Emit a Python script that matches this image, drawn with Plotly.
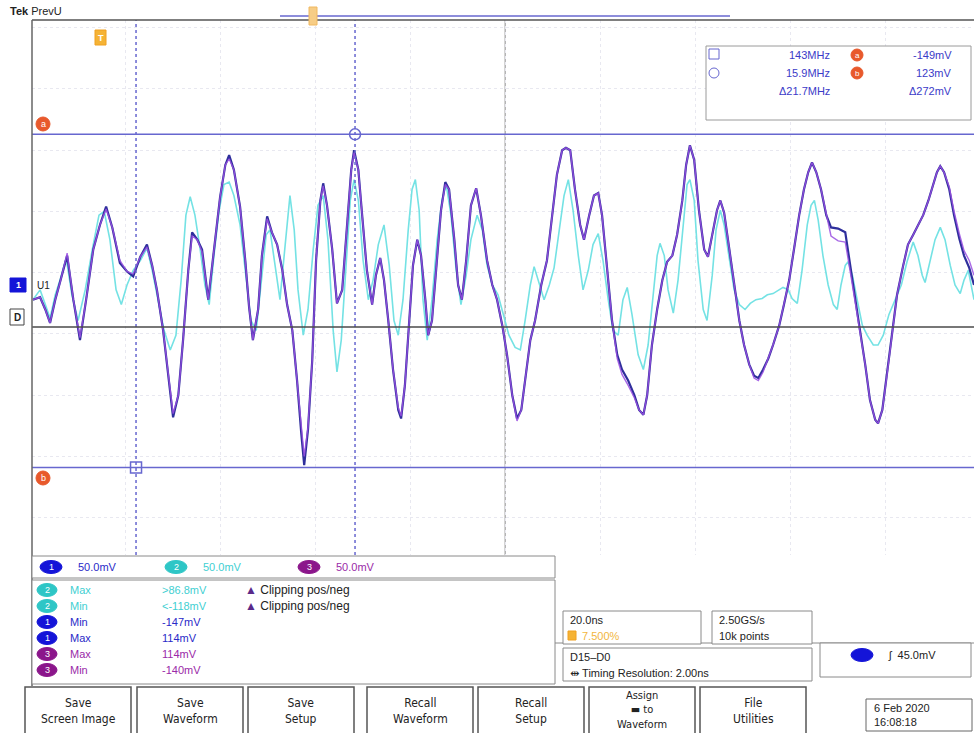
import plotly.graph_objects as go

# ---------------- data (time in ns, amplitude in mV) ----------------
ch1_t = [-99.4, -97.9, -96.8, -95.8, -94.7, -93.7, -92.2, -90.9, -89.5, -88.2,
         -86.7, -85.3, -84.0, -82.7, -81.1, -79.6, -78.3, -76.8, -75.4, -74.3,
         -73.3, -72.0, -70.9, -69.9, -68.8, -67.8, -66.7, -65.9, -64.8, -63.8,
         -62.5, -61.3, -60.0, -58.9, -58.1, -57.1, -55.8, -54.7, -53.9, -53.1,
         -52.0, -51.2, -50.1, -49.1, -48.0, -46.9, -45.9, -44.8, -43.8, -42.9,
         -42.3, -41.5, -40.6, -39.8, -38.9, -38.3, -37.5, -36.4, -35.4, -34.3,
         -33.3, -32.4, -31.8, -30.9, -30.1, -29.1, -28.0, -27.2, -26.3, -25.5,
         -24.6, -23.6, -22.5, -21.9, -21.1, -20.2, -19.4, -18.5, -17.7, -16.8,
         -16.2, -15.4, -14.3, -13.5, -12.6, -11.8, -10.7, -9.9, -9.1, -8.2,
         -7.2, -6.1, -5.1, -3.8, -2.7, -1.7, -0.6, 0.4, 1.5, 2.5,
         3.4, 4.2, 5.3, 6.3, 7.6, 8.8, 9.9, 10.9, 12.0, 12.8,
         13.7, 14.7, 15.8, 16.6, 17.7, 18.7, 19.6, 20.4, 21.5, 22.5,
         23.6, 24.6, 25.9, 27.2, 28.2, 29.1, 29.9, 30.9, 32.0, 33.1,
         34.1, 35.2, 36.2, 37.3, 38.1, 38.9, 39.8, 40.8, 41.9, 42.7,
         43.8, 44.6, 45.3, 46.1, 47.2, 48.2, 49.3, 50.3, 51.4, 52.4,
         53.3, 54.3, 55.4, 56.4, 57.7, 58.7, 59.8, 60.8, 61.9, 62.9,
         63.8, 64.6, 65.5, 66.5, 67.6, 68.6, 70.1, 71.6, 72.6, 73.7,
         74.7, 75.8, 76.8, 77.9, 78.5, 79.4, 80.4, 81.5, 82.5, 83.8,
         84.8, 85.9, 86.9, 88.0, 89.1, 90.1, 90.9, 91.6, 92.4, 93.5,
         94.5, 95.6, 96.6, 97.7, 98.7]

ch1_mv = [-12, -10, -20, -31, -12, 2, 24, -12, -45, -12,
          29, 49, 64, 47, 18, 11, 7, 23, 33, 16,
          -4, -37, -73, -108, -90, -45, 12, 43, 37, 29,
          -12, 29, 72, 98, 106, 94, 64, 20, -18, -45,
          -20, 24, 56, 43, 33, 12, -16, -37, -78, -122,
          -147, -118, -61, 20, 69, 83, 65, 29, -15, -4,
          45, 94, 110, 94, 57, 12, -16, 8, 22, 4,
          -29, -69, -102, -109, -82, -29, 16, 37, 24, -12,
          -41, -29, 20, 61, 84, 78, 37, 0, -12, 20,
          65, 79, 57, 20, 0, -12, -33, -57, -90, -109,
          -102, -78, -45, -29, 0, 20, 57, 90, 110, 112,
          110, 78, 49, 37, 57, 73, 75, 57, 12, -29,
          -57, -69, -78, -90, -102, -106, -90, -49, -20, 4,
          19, 24, 41, 69, 98, 114, 102, 61, 29, 23,
          45, 61, 69, 59, 29, 0, -29, -49, -65, -74,
          -76, -69, -60, -49, -33, -16, 4, 29, 57, 78,
          92, 100, 92, 78, 57, 47, 46, 43, 16, -12,
          -37, -65, -94, -110, -113, -102, -73, -41, -8, 16,
          33, 41, 49, 57, 69, 82, 92, 97, 92, 78,
          57, 38, 24, 14, 0]

# math / reference waveform (same time base as ch1)
math_mv = [-12, -10, -20, -31, -12, 2, 26, -12, -43, -12,
           29, 49, 62, 47, 20, 11, 9, 23, 31, 16,
           -4, -37, -73, -105, -90, -45, 12, 40, 37, 27,
           -12, 29, 72, 98, 103, 94, 64, 20, -18, -45,
           -20, 24, 54, 43, 33, 12, -16, -37, -78, -118,
           -140, -116, -61, 20, 69, 81, 65, 29, -15, -4,
           45, 94, 108, 94, 57, 12, -16, 8, 22, 4,
           -29, -69, -100, -107, -82, -29, 16, 37, 24, -12,
           -41, -29, 20, 61, 82, 78, 37, 0, -12, 20,
           65, 79, 57, 20, 0, -12, -33, -57, -90, -111,
           -102, -78, -45, -29, 0, 20, 57, 90, 110, 112,
           110, 78, 49, 37, 57, 73, 75, 57, 12, -29,
           -60, -73, -82, -92, -102, -106, -90, -49, -20, 4,
           19, 24, 41, 69, 98, 114, 102, 61, 29, 23,
           45, 61, 69, 59, 29, 0, -29, -49, -65, -76,
           -78, -71, -60, -49, -33, -16, 4, 29, 57, 78,
           92, 100, 92, 78, 57, 40, 36, 35, 12, -14,
           -37, -65, -94, -110, -113, -102, -73, -41, -8, 16,
           33, 41, 49, 57, 69, 82, 92, 97, 92, 80,
           60, 42, 28, 20, 8]

ch2_t = [-99.4, -97.9, -96.8, -95.8, -94.7, -93.7, -92.4, -91.2, -89.9, -88.4,
         -86.9, -85.5, -84.4, -83.2, -81.9, -80.8, -79.6, -78.3, -76.8, -75.4,
         -74.3, -73.1, -71.8, -70.5, -69.3, -68.2, -67.2, -66.3, -65.3, -64.2,
         -63.2, -62.3, -61.3, -60.2, -59.2, -58.1, -57.1, -55.8, -54.5, -53.5,
         -52.4, -51.4, -50.3, -49.5, -48.4, -47.4, -46.3, -45.3, -44.4, -43.6,
         -42.5, -41.5, -40.4, -39.4, -38.3, -37.3, -36.2, -35.4, -34.5, -33.5,
         -32.6, -31.8, -30.9, -29.9, -28.8, -27.8, -26.7, -25.5, -24.4, -23.4,
         -22.5, -21.5, -20.4, -19.6, -18.9, -18.1, -17.3, -16.4, -15.4, -14.3,
         -13.3, -12.4, -11.4, -10.3, -9.3, -8.2, -7.2, -5.9, -4.8, -3.8,
         -2.7, -1.5, -0.4, 0.8, 2.1, 3.2, 4.2, 5.3, 6.1, 7.2,
         8.2, 9.3, 10.3, 11.4, 12.4, 13.3, 14.3, 15.4, 16.4, 17.5,
         18.5, 19.6, 20.6, 21.7, 22.7, 23.8, 24.8, 25.7, 26.7, 28.0,
         29.1, 30.1, 31.2, 32.0, 32.6, 33.5, 34.3, 35.4, 36.4, 37.5,
         38.3, 38.9, 39.8, 40.6, 41.7, 42.5, 43.6, 44.4, 45.3, 46.1,
         47.2, 48.2, 49.3, 50.5, 51.6, 52.8, 54.1, 55.2, 56.4, 57.5,
         58.5, 59.6, 60.4, 61.5, 62.5, 63.6, 64.4, 65.1, 65.9, 66.9,
         68.0, 69.1, 69.9, 70.7, 71.6, 72.2, 73.1, 74.1, 75.2, 76.2,
         77.5, 78.5, 79.6, 80.8, 82.1, 83.4, 84.6, 85.9, 86.9, 87.8,
         88.4, 89.5, 90.5, 91.6, 92.6, 93.7, 94.7, 95.8, 96.6, 97.5,
         98.7]

ch2_mv = [-12, -4, -16, -27, -8, 4, 22, -8, -29, -4,
          29, 57, 60, 37, -4, -16, 0, 12, 20, 30,
          12, -12, -37, -53, -41, 4, 57, 72, 57, 29,
          0, -16, 24, 61, 82, 84, 73, 49, 4, -29,
          -37, 0, 41, 45, 16, -12, 33, 73, 45, -4,
          -41, -20, 29, 65, 73, 37, -37, -71, -45, 20,
          69, 86, 69, 20, -12, 4, 33, 49, 16, -29,
          -41, -12, 45, 78, 86, 61, -12, -45, -12, 37,
          69, 82, 57, 12, -16, 8, 37, 57, 45, 16,
          0, -8, -24, -41, -51, -53, -29, 0, 15, 0,
          -12, 0, 14, 45, 73, 86, 61, 24, -4, 12,
          33, 42, 20, -12, -37, -41, -12, -2, -24, -57,
          -69, -49, -4, 24, 34, 24, -4, -23, 4, 53,
          82, 86, 69, 20, -20, -29, 8, 45, 61, 49,
          20, -4, -16, -20, -15, -12, -11, -8, -7, -4,
          -2, -4, -11, -15, 12, 49, 65, 69, 53, 24,
          0, -16, -20, 0, 16, 19, 8, -12, -33, -41,
          -49, -49, -41, -24, -12, 0, 19, 35, 24, 8,
          2, 20, 37, 47, 37, 16, 0, -7, 4, 12,
          -12]

# screen settings / cursors
time_range = [-99.6, 98.7]        # ns   (20 ns/div)
volt_range = [-220.4, 216.3]      # mV   (50 mV/div)
cursor_t = [-77.7, -31.6]         # ns
cursor_v = [-149, 123]            # mV
bus_level = -34.3                 # mV (D15-D0 baseline)

cursor_rows = [["143MHz", "-149mV"], ["15.9MHz", "123mV"], ["\u039421.7MHz", "\u0394272mV"]]
meas_rows = [["2", "Max", ">86.8mV", True], ["2", "Min", "<-118mV", True],
             ["1", "Min", "-147mV", False], ["1", "Max", "114mV", False],
             ["3", "Max", "114mV", False], ["3", "Min", "-140mV", False]]
buttons = [["Save", "Screen Image"], ["Save", "Waveform"], ["Save", "Setup"],
           ["Recall", "Waveform"], ["Recall", "Setup"], ["Assign", "\u25ac to", "Waveform"],
           ["File", "Utilities"]]

# ---------------- styling ----------------
W, H = 974, 733
FONT = "Liberation Sans, DejaVu Sans, sans-serif"
NARROW = "Liberation Sans Narrow, DejaVu Sans Condensed, Liberation Sans, sans-serif"
C1 = "#2f2f9c"
C1B = "#1414d8"
C2 = "#74e2e4"
C2T = "#3fcfd2"
C3 = "#9a4fe2"
C3B = "#8b168b"
CUR = "#6767cf"
ORG = "#e8592c"

shapes, ann = [], []


def X(x):
    return x / W


def Y(y):
    return 1 - y / H


def rect(x0, y0, x1, y1, line="#8c8c8c", fill="white", width=1):
    shapes.append(dict(type="rect", xref="paper", yref="paper", x0=X(x0), x1=X(x1),
                       y0=Y(y1), y1=Y(y0), line=dict(color=line, width=width),
                       fillcolor=fill, layer="above"))


def seg(x0, y0, x1, y1, color, width=1, dash="solid"):
    shapes.append(dict(type="line", xref="paper", yref="paper", x0=X(x0), x1=X(x1),
                       y0=Y(y0), y1=Y(y1), line=dict(color=color, width=width, dash=dash),
                       layer="above"))


def oval(cx, cy, rx, ry, fill, line=None):
    shapes.append(dict(type="circle", xref="paper", yref="paper", x0=X(cx - rx), x1=X(cx + rx),
                       y0=Y(cy + ry), y1=Y(cy - ry), fillcolor=fill,
                       line=dict(color=line or fill, width=1), layer="above"))


def txt(x, y, s, color="#222", size=11, anchor="left", family=FONT):
    ann.append(dict(x=X(x), y=Y(y), xref="paper", yref="paper", text=s, showarrow=False,
                    xanchor=anchor, yanchor="middle", font=dict(color=color, size=size, family=family)))


fig = go.Figure()
fig.add_trace(go.Scatter(x=ch2_t, y=ch2_mv, mode="lines", line=dict(color=C2, width=1.6),
                         hoverinfo="skip"))
fig.add_trace(go.Scatter(x=ch1_t, y=ch1_mv, mode="lines", line=dict(color=C1, width=2.2),
                         hoverinfo="skip"))
fig.add_trace(go.Scatter(x=ch1_t, y=math_mv, mode="lines", line=dict(color=C3, width=1.4),
                         opacity=0.85, hoverinfo="skip"))

# cursors (data coordinates)
for v in cursor_v:
    shapes.append(dict(type="line", xref="x domain", yref="y", x0=0, x1=1, y0=v, y1=v,
                       line=dict(color=CUR, width=1.5), layer="above"))
for t in cursor_t:
    shapes.append(dict(type="line", xref="x", yref="y domain", x0=t, x1=t, y0=0, y1=1,
                       line=dict(color=CUR, width=1.5, dash="dot"), layer="above"))
shapes.append(dict(type="line", xref="x domain", yref="y", x0=0, x1=1, y0=bus_level, y1=bus_level,
                   line=dict(color="#4a4a4a", width=1.5), layer="above"))
shapes.append(dict(type="line", xref="x", yref="y domain", x0=0, x1=0, y0=0, y1=1,
                   line=dict(color="#8a8a8a", width=1), layer="below"))
fig.add_trace(go.Scatter(x=cursor_t, y=cursor_v, mode="markers",
                         marker=dict(symbol=["square-open", "circle-open"], size=11,
                                     color=CUR, line=dict(width=1.5)), hoverinfo="skip"))

# frame
seg(32, 20, 974, 20, "#555", 1.5)
seg(32, 20, 32, 686, "#666", 1.5)

# header
txt(8, 11, "<b>Tek</b> PrevU", "#222", 11)
seg(280, 16, 730, 16, CUR, 1.5)
rect(309, 7, 317, 25, line="#f0b860", fill="#f7cd86")
rect(95, 30, 106, 45, line="#f0a020", fill="#f5b335")
txt(100.5, 38, "<b>T</b>", "white", 9, "center")

# cursor labels at left
oval(43, 124, 7, 7, ORG)
txt(43, 124, "a", "white", 9, "center")
oval(43, 478, 7, 7, ORG)
txt(43, 478, "b", "white", 9, "center")

# channel markers
rect(10, 278, 26, 292, line=C1B, fill=C1B)
txt(18, 285, "<b>1</b>", "white", 9, "center")
txt(35, 285, "U1", "#222", 10)
rect(10, 309, 24, 325, line="#444", fill="white")
txt(17, 317, "<b>D</b>", "#222", 10, "center")

# cursor readout box
rect(706, 46, 971, 120, line="#9a9a9a")
rect(709, 49, 719, 59, line=CUR, fill="white")
oval(714, 73, 5, 5, "white", CUR)
for i, (f, v) in enumerate(cursor_rows):
    yy = 55 + i * 18
    txt(832, yy, f, "#3b3bc8", 11, "right")
    txt(954, yy, v, "#3b3bc8", 11, "right")
    if i < 2:
        oval(857, yy, 6, 6, ORG)
        txt(857, yy, "ab"[i], "white", 8, "center")

# channel scale bar
rect(32, 556, 555, 578, line="#8a8a8a")
for bx, col, tcol, lab in [(51, C1B, "#2a2ac8", "1"), (176, "#2ec6c6", C2T, "2"), (309, C3B, "#9a2aa8", "3")]:
    oval(bx, 567, 11, 6.5, col)
    txt(bx, 567, lab, "white", 9, "center")
    txt(bx + 25, 567, "50.0mV", tcol, 11)

# measurement box
rect(32, 580, 555, 684, line="#8a8a8a")
badge = {"1": (C1B, "#2a2ac8"), "2": ("#2ec6c6", C2T), "3": (C3B, "#9a2aa8")}
for i, (ch, name, val, clip) in enumerate(meas_rows):
    yy = 590 + i * 16
    bc, tc = badge[ch]
    oval(47, yy, 10, 6.5, bc)
    txt(47, yy, ch, "white", 9, "center")
    txt(68, yy, name, tc, 11)
    txt(160, yy, val, tc, 11)
    if clip:
        txt(243, yy, "<span style='color:#5a2a8a'>\u25b2</span> Clipping pos/neg", "#222", 12)

# horizontal / acquisition boxes
seg(555, 643, 974, 643, "#8a8a8a", 1)
rect(563, 611, 701, 644, line="#8a8a8a")
txt(568, 620, "20.0ns", "#222", 11)
rect(568, 631, 576, 640, line="#f0a020", fill="#f5b335")
txt(580, 636, "7.500%", "#f2b640", 11)
rect(712, 611, 812, 644, line="#8a8a8a")
txt(717, 620, "2.50GS/s", "#222", 11)
txt(717, 636, "10k points", "#222", 11)
rect(563, 648, 812, 681, line="#8a8a8a")
txt(568, 657, "D15\u2013D0", "#222", 11)
txt(568, 673, "\u21f9 Timing Resolution: 2.00ns", "#222", 11)
rect(820, 643, 971, 677, line="#8a8a8a")
oval(862, 655, 11, 6.5, C1B)
txt(886, 655, "\u0283  45.0mV", "#222", 11)

# buttons
bx0 = [25, 137, 248, 367, 478, 589, 700]
for x0, lab in zip(bx0, buttons):
    rect(x0, 687, x0 + 106, 735, line="#555", fill="white", width=1.5)
    txt(x0 + 53, 711 if len(lab) == 2 else 710, "<br>".join(lab), "#222",
        12 if len(lab) == 2 else 11, "center", NARROW)
rect(866, 699, 972, 731, line="#666", fill="white")
txt(872, 708, "6 Feb 2020", "#222", 11)
txt(872, 722, "16:08:18", "#222", 11)

fig.update_layout(
    width=W, height=H, margin=dict(l=0, r=0, t=0, b=0),
    paper_bgcolor="white", plot_bgcolor="rgba(0,0,0,0)", showlegend=False,
    xaxis=dict(domain=[32 / W, 1], range=time_range, showgrid=True, tick0=0, dtick=20,
               gridcolor="#e8e8f0", griddash="dot", gridwidth=1, showticklabels=False,
               zeroline=False, ticks="", showline=False, fixedrange=True),
    yaxis=dict(domain=[1 - 555 / H, 1 - 20 / H], range=volt_range, showgrid=True,
               tick0=-40, dtick=50, gridcolor="#e8e8f0", griddash="dot", gridwidth=1,
               showticklabels=False, zeroline=False, ticks="", showline=False, fixedrange=True),
    shapes=shapes, annotations=ann,
)
fig.write_html("out.html")
